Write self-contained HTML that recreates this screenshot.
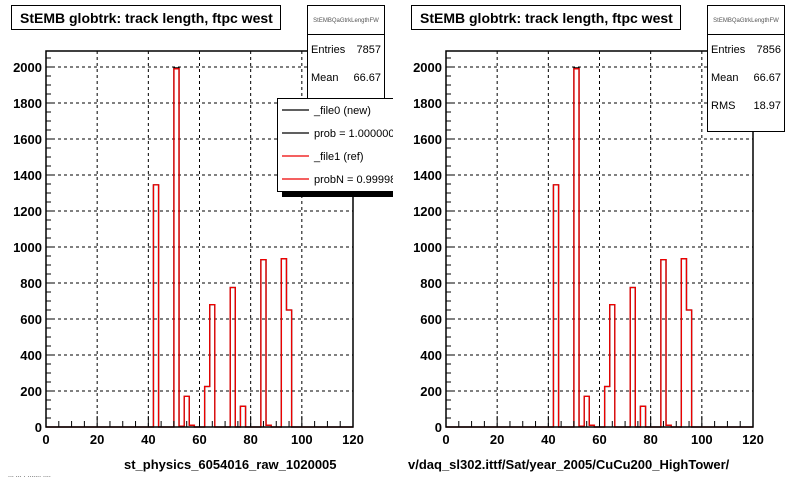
<!DOCTYPE html>
<html><head><meta charset="utf-8"><style>
body{margin:0;background:#fff;width:800px;height:480px;overflow:hidden;font-family:"Liberation Sans",Arial,sans-serif}
svg text{font-family:"Liberation Sans",Arial,sans-serif}
</style></head><body>
<svg id="c" width="800" height="480" xmlns="http://www.w3.org/2000/svg"></svg>
<script>
const binEdges = [42,50,52,54,56,62,64,72,76,84,86,92,94];
const refValues = [1345,1990,5,170,10,225,680,775,115,930,10,935,650];
const newValues = [1345,1995,5,170,10,225,680,775,115,930,10,935,650];
const xTicks = [0,20,40,60,80,100,120];
const yTicks = [0,200,400,600,800,1000,1200,1400,1600,1800,2000];
const binWidth = 2;
const NS="http://www.w3.org/2000/svg";
const svg=document.getElementById('c');
function mk(tag,attrs,parent){const e=document.createElementNS(NS,tag);for(const k in attrs)e.setAttribute(k,attrs[k]);(parent||svg).appendChild(e);return e;}
function panel(ox, xlabel, stats, legend, pname){
  const g=mk('g',{});
  
  
  const L=ox+46,R=ox+353,T=51,B=427;
  const xs=v=>L+(v/120)*(R-L);
  const ys=v=>B-v*0.18;
  xTicks.forEach(t=>{if(t>0&&t<120){const l=mk('line',{x1:xs(t),x2:xs(t),y1:T,y2:B,stroke:'#000','stroke-dasharray':'3,3','stroke-width':1},g);}});
  yTicks.forEach(t=>{if(t>0){const l=mk('line',{x1:L,x2:R,y1:ys(t),y2:ys(t),stroke:'#000','stroke-dasharray':'3,3','stroke-width':1},g);}});
  [[newValues,'#000'],[refValues,'#e00']].forEach(([vals,col])=>{
    let d='M'+xs(0)+','+B;
    let cur=0;
    binEdges.forEach((e,i)=>{
      d+=' L'+xs(e)+','+ys(cur)+' L'+xs(e)+','+ys(vals[i]);
      cur=vals[i];
      const nx=e+binWidth;
      d+=' L'+xs(nx)+','+ys(vals[i]);
      const nextE=binEdges[i+1];
      if(nextE!==nx){d+=' L'+xs(nx)+','+ys(0);cur=0;}
    });
    d+=' L'+xs(120)+','+B;
    const p=mk('path',{d:d,fill:'none',stroke:col,'stroke-width':1.3},g);
    
    
  });
  const fr=mk('rect',{x:L,y:T,width:R-L,height:B-T,fill:'none',stroke:'#000','stroke-width':1.5},g);
  
  for(let v=0;v<=120;v+=5){const big=v%20===0;mk('line',{x1:xs(v),x2:xs(v),y1:B,y2:B-(big?11:6),stroke:'#000'},g);}
  for(let v=0;v<=2050;v+=50){const big=v%200===0;mk('line',{x1:L,x2:L+(big?9:5),y1:ys(v),y2:ys(v),stroke:'#000'},g);}
  xTicks.forEach(t=>{const tx=mk('text',{x:xs(t),y:B+17,'text-anchor':'middle','font-size':13,'font-weight':'bold'},g);tx.textContent=t;});
  yTicks.forEach(t=>{const tx=mk('text',{x:L-4,y:ys(t)+5,'text-anchor':'end','font-size':13,'font-weight':'bold'},g);tx.textContent=t;});
  const xl=mk('text',{x:xlabel[1],y:469,'font-size':13,'font-weight':'bold'},g);xl.textContent=xlabel[0];
  
  const tb=mk('rect',{x:ox+11.5,y:5.5,width:269,height:24,fill:'#fff',stroke:'#000'},g);
  
  const tt=mk('text',{x:ox+20,y:23,'font-size':14,'font-weight':'bold'},g);tt.textContent='StEMB globtrk: track length, ftpc west';
  
  const sh=14+28*stats.length;
  const sb=mk('rect',{x:ox+307.5,y:5.5,width:77,height:28+sh-14+14,fill:'#fff',stroke:'#000'},g);
  
  mk('line',{x1:ox+307.5,x2:ox+384.5,y1:34.5,y2:34.5,stroke:'#000'},g);
  const sn=mk('text',{x:ox+346,y:22,'text-anchor':'middle','font-size':6,fill:'#555'},g);sn.textContent='StEMBQaGtrkLengthFW';
  
  stats.forEach((s,i)=>{
    const y=53+i*28;
    const a=mk('text',{x:ox+311,y:y,'font-size':11},g);a.textContent=s[0];
    
    const b=mk('text',{x:ox+381,y:y,'font-size':11,'text-anchor':'end'},g);b.textContent=s[1];
    
  });
  if(legend){
    const lg=mk('g',{},g);
    
    mk('rect',{x:ox+282,y:104,width:120,height:93,fill:'#000'},lg);
    mk('rect',{x:ox+277.5,y:98.5,width:120,height:93,fill:'#fff',stroke:'#000'},lg);
    const items=[['_file0 (new)','#000'],['prob = 1.000000','#000'],['_file1 (ref)','#e00'],['probN = 0.999987','#e00']];
    items.forEach((it,i)=>{
      const y=109+i*23;
      const e=mk('g',{},lg);
      
      mk('line',{x1:ox+282,x2:ox+309,y1:y+1,y2:y+1,stroke:it[1],'stroke-width':1.3},e);
      const t=mk('text',{x:ox+314,y:y+5,'font-size':11},e);t.textContent=it[0];
    });
  }
}
panel(0,['st_physics_6054016_raw_1020005',124],[['Entries','7857'],['Mean','66.67']],true,'left-panel');
const cover=mk('rect',{x:393,y:0,width:13,height:200,fill:'#fff'});

panel(400,['v/daq_sl302.ittf/Sat/year_2005/CuCu200_HighTower/',408],[['Entries','7856'],['Mean','66.67'],['RMS','18.97']],false,'right-panel');
const ft=mk('text',{x:8,y:477,'font-size':7,fill:'#333'});ft.textContent='... ... . ....... ....';

</script>
</body></html>
